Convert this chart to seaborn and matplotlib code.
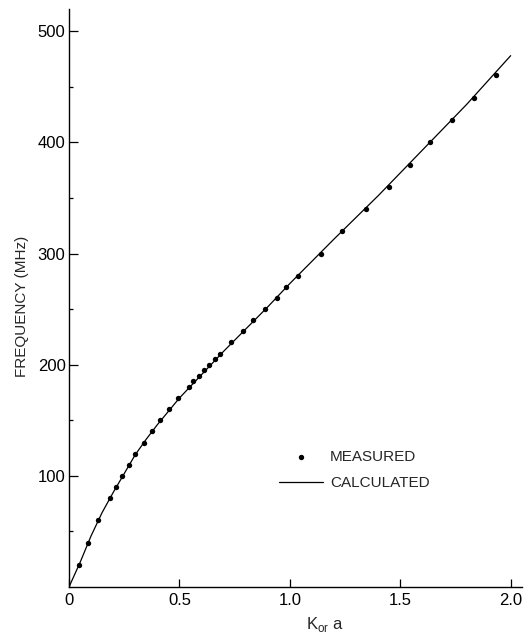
import matplotlib
matplotlib.use("Agg")
import matplotlib.pyplot as plt
import seaborn as sns
import pandas as pd
from matplotlib.ticker import FixedLocator

# Measured points
meas_x = [0.045, 0.085, 0.131, 0.184, 0.213, 0.240, 0.270, 0.299, 0.338, 0.376,
          0.414, 0.453, 0.495, 0.542, 0.560, 0.588, 0.612, 0.636, 0.663, 0.686,
          0.733, 0.787, 0.835, 0.888, 0.941, 0.983, 1.036, 1.142, 1.237, 1.343,
          1.447, 1.542, 1.634, 1.734, 1.835, 1.932]
meas_y = [20, 40, 60, 80, 90, 100, 110, 120, 130, 140,
          150, 160, 170, 180, 185, 190, 195, 200, 205, 210,
          220, 230, 240, 250, 260, 270, 280, 300, 320, 340,
          360, 380, 400, 420, 440, 461]

# Calculated curve
calc_x = [0.0, 0.05, 0.1, 0.15, 0.2, 0.25, 0.3, 0.35, 0.4, 0.45, 0.5, 0.6, 0.7,
          0.8, 0.9, 1.0, 1.2, 1.4, 1.6, 1.8, 2.0]
calc_y = [0, 22, 46, 67, 85, 102, 119, 133, 146, 158, 170, 191, 212,
          232, 252, 273, 313, 352, 393, 434, 478]

x_ticks = [0, 0.5, 1.0, 1.5, 2.0]
x_tick_labels = ["0", "0.5", "1.0", "1.5", "2.0"]
y_ticks = [100, 200, 300, 400, 500]
y_minor_ticks = [50, 150, 250, 350, 450]

meas = pd.DataFrame({"x": meas_x, "y": meas_y})
calc = pd.DataFrame({"x": calc_x, "y": calc_y})

sns.set_style("ticks")
plt.rcParams["font.family"] = ["Liberation Sans", "DejaVu Sans"]

fig = plt.figure(figsize=(5.26, 6.34), dpi=100)
ax = fig.add_axes([69 / 526, 47 / 634, 452.7 / 526, 578 / 634])

sns.lineplot(data=calc, x="x", y="y", ax=ax, color="black", linewidth=0.9,
             label="CALCULATED", sort=True)
sns.scatterplot(data=meas, x="x", y="y", ax=ax, color="black", s=15,
                edgecolor="black", linewidth=0, label="MEASURED", zorder=3)

ax.set_xlim(0, 2.05)
ax.set_ylim(0, 520)
ax.xaxis.set_major_locator(FixedLocator(x_ticks))
ax.set_xticklabels(x_tick_labels)
ax.yaxis.set_major_locator(FixedLocator(y_ticks))
ax.yaxis.set_minor_locator(FixedLocator(y_minor_ticks))
ax.tick_params(axis="y", which="major", direction="in", length=6.5, width=0.9,
               labelsize=12, color="black", labelcolor="black", pad=2.5)
ax.tick_params(axis="x", which="major", direction="in", length=5.5, width=0.9,
               labelsize=12, color="black", labelcolor="black", pad=4)
ax.tick_params(axis="y", which="minor", direction="in", length=3, width=0.9,
               color="black")

for side in ["top", "right"]:
    ax.spines[side].set_visible(False)
for side in ["left", "bottom"]:
    ax.spines[side].set_linewidth(1.0)
    ax.spines[side].set_color("black")

ax.set_xlabel(r"K$_{\mathregular{or}}$ a", fontsize=12, va="top")
ax.xaxis.set_label_coords(0.565, -0.048)
ax.set_ylabel("FREQUENCY (MHz)", fontsize=11, va="center")
ax.yaxis.set_label_coords(-0.104, 0.486)

handles, labels = ax.get_legend_handles_labels()
order = [labels.index("MEASURED"), labels.index("CALCULATED")]
ax.legend([handles[i] for i in order], [labels[i] for i in order],
          frameon=False, loc="center left", bbox_to_anchor=(0.464, 0.2025),
          borderpad=0, borderaxespad=0, handlelength=2.9, handletextpad=0.45,
          labelspacing=0.8, fontsize=11)

fig.savefig("out.png", dpi=100)
